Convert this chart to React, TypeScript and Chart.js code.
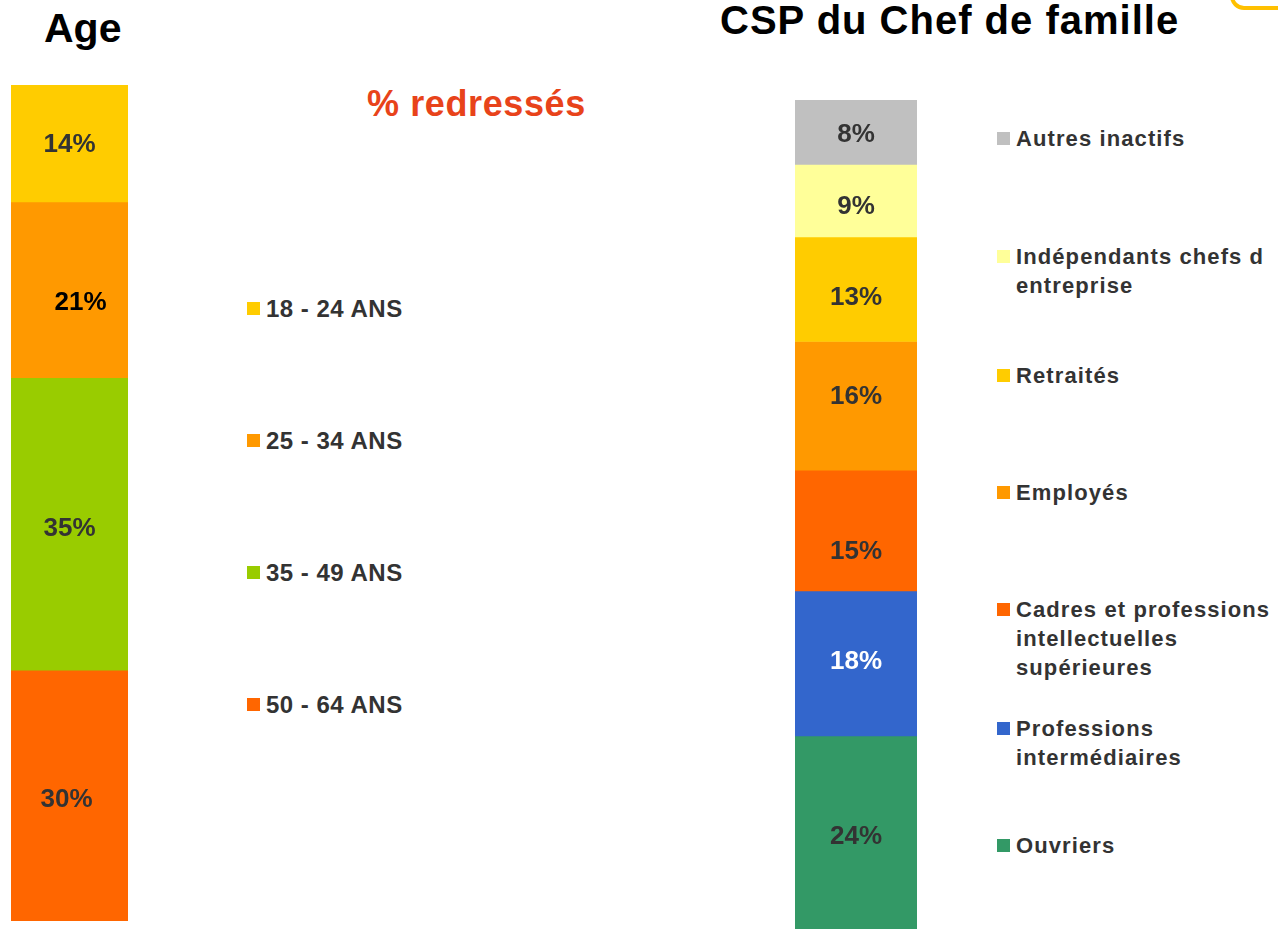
import React, { useEffect, useRef } from "react";
import { Chart, registerables } from "chart.js";

Chart.register(...registerables);

// ---- Data ----
const ageCategories = ["18 - 24 ANS", "25 - 34 ANS", "35 - 49 ANS", "50 - 64 ANS"];
const ageValues = [14, 21, 35, 30];

const cspCategories = [
  "Autres inactifs",
  "Indépendants chefs d\nentreprise",
  "Retraités",
  "Employés",
  "Cadres et professions\nintellectuelles\nsupérieures",
  "Professions\nintermédiaires",
  "Ouvriers",
];
const cspValues = [8, 9, 13, 16, 15, 18, 24];

// ---- Styles ----
const ageColors = ["#FFCC00", "#FF9900", "#99CC00", "#FF6600"];
const ageLabelColors = ["#333333", "#000000", "#333333", "#333333"];
const ageLabelDx = [0, 11, 0, -3];
const ageLabelDy = [1, 13, 5, 4];

const cspColors = ["#C0C0C0", "#FFFF99", "#FFCC00", "#FF9900", "#FF6600", "#3366CC", "#339966"];
const cspLabelColors = ["#333333", "#333333", "#333333", "#333333", "#333333", "#FFFFFF", "#333333"];
const cspLabelDx = [0, 0, 0, 0, 0, 0, 0];
const cspLabelDy = [3, 6, 9, -9, 21, -2, 4];

const ageLegendCenters = [308, 440, 572, 704];
const cspLegendCenters = [138, 256, 375, 492, 609, 728, 845];

const FONT = "'Liberation Sans', Arial, Helvetica, sans-serif";

type BarProps = {
  values: number[];
  labels: string[];
  colors: string[];
  labelColors: string[];
  labelDx: number[];
  labelDy: number[];
  max: number;
  left: number;
  top: number;
  width: number;
  height: number;
};

function StackBar(p: BarProps) {
  const ref = useRef<HTMLCanvasElement>(null);
  useEffect(() => {
    const labelPlugin = {
      id: "segLabels",
      afterDatasetsDraw(chart: any) {
        const ctx = chart.ctx;
        ctx.save();
        ctx.font = `bold 26px ${FONT}`;
        ctx.textAlign = "center";
        ctx.textBaseline = "middle";
        chart.data.datasets.forEach((ds: any, i: number) => {
          const el = chart.getDatasetMeta(i).data[0];
          if (!el) return;
          const { x, y, base } = el.getProps(["x", "y", "base"], true);
          const cy = (y + base) / 2;
          ctx.fillStyle = p.labelColors[i];
          ctx.fillText(`${ds.data[0]}%`, x + p.labelDx[i], cy + p.labelDy[i]);
        });
        ctx.restore();
      },
    };
    const chart = new Chart(ref.current as HTMLCanvasElement, {
      type: "bar",
      data: {
        labels: [""],
        datasets: p.values.map((v, i) => ({
          label: p.labels[i],
          data: [v],
          backgroundColor: p.colors[i],
          borderWidth: 0,
          barPercentage: 1,
          categoryPercentage: 1,
        })),
      },
      options: {
        responsive: false,
        animation: false,
        layout: { padding: 0 },
        plugins: { legend: { display: false }, tooltip: { enabled: false } },
        scales: {
          x: { stacked: true, display: false },
          y: { stacked: true, display: false, reverse: true, min: 0, max: p.max },
        },
      },
      plugins: [labelPlugin],
    });
    return () => chart.destroy();
  }, []);
  return (
    <canvas
      ref={ref}
      width={p.width}
      height={p.height}
      style={{ position: "absolute", left: p.left, top: p.top, width: p.width, height: p.height }}
    />
  );
}

function Legend({
  items,
  colors,
  centers,
  left,
  fontSize,
  lineHeight,
  spacing,
}: {
  items: string[];
  colors: string[];
  centers: number[];
  left: number;
  fontSize: number;
  lineHeight: number;
  spacing: number;
}) {
  return (
    <>
      {items.map((t, i) => (
        <div
          key={i}
          style={{
            position: "absolute",
            left,
            top: centers[i] - lineHeight / 2,
            display: "flex",
            alignItems: "flex-start",
          }}
        >
          <div
            style={{
              width: 13,
              height: 13,
              background: colors[i],
              marginTop: (lineHeight - 13) / 2,
              marginRight: 6,
              flex: "none",
            }}
          />
          <div
            style={{
              fontFamily: FONT,
              fontWeight: "bold",
              fontSize,
              lineHeight: `${lineHeight}px`,
              letterSpacing: spacing,
              color: "#333333",
              whiteSpace: "pre",
            }}
          >
            {t}
          </div>
        </div>
      ))}
    </>
  );
}

export default function App() {
  return (
    <div
      style={{
        position: "fixed",
        left: 0,
        top: 0,
        width: 1278,
        height: 929,
        overflow: "hidden",
        background: "#FFFFFF",
      }}
    >
      <div
        style={{
          position: "absolute",
          left: 1230,
          top: -40,
          width: 100,
          height: 42,
          border: "4px solid #FFC000",
          borderRadius: 14,
        }}
      />
      <div
        style={{
          position: "absolute",
          left: 44,
          top: 8,
          fontFamily: FONT,
          fontWeight: "bold",
          fontSize: 41,
          lineHeight: 1,
          color: "#000",
          whiteSpace: "nowrap",
        }}
      >
        Age
      </div>
      <div
        style={{
          position: "absolute",
          left: 720,
          top: 2,
          fontFamily: FONT,
          fontWeight: "bold",
          fontSize: 40,
          lineHeight: "36px",
          letterSpacing: 1,
          color: "#000",
          whiteSpace: "nowrap",
        }}
      >
        CSP du Chef de famille
      </div>
      <div
        style={{
          position: "absolute",
          left: 367,
          top: 86,
          fontFamily: FONT,
          fontWeight: "bold",
          fontSize: 36,
          lineHeight: 1,
          letterSpacing: 0.6,
          color: "#E8431A",
          whiteSpace: "nowrap",
        }}
      >
        % redressés
      </div>

      <StackBar
        values={ageValues}
        labels={ageCategories}
        colors={ageColors}
        labelColors={ageLabelColors}
        labelDx={ageLabelDx}
        labelDy={ageLabelDy}
        max={100}
        left={11}
        top={85}
        width={117}
        height={836}
      />
      <StackBar
        values={cspValues}
        labels={cspCategories}
        colors={cspColors}
        labelColors={cspLabelColors}
        labelDx={cspLabelDx}
        labelDy={cspLabelDy}
        max={103}
        left={795}
        top={100}
        width={122}
        height={829}
      />

      <Legend items={ageCategories} colors={ageColors} centers={ageLegendCenters} left={247} fontSize={24} lineHeight={29} spacing={0.5} />
      <Legend items={cspCategories} colors={cspColors} centers={cspLegendCenters} left={997} fontSize={22} lineHeight={29} spacing={1.1} />
    </div>
  );
}
